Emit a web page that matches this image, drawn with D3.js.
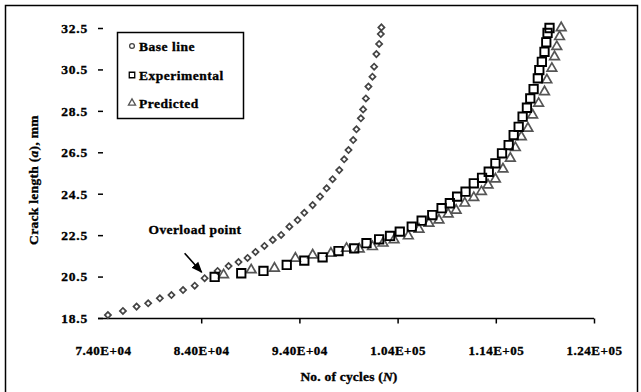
<!DOCTYPE html>
<html><head><meta charset="utf-8">
<script src="https://cdn.jsdelivr.net/npm/d3@7"></script>
<style>body{margin:0;background:#fff}svg{display:block}</style>
</head><body><svg id="c" width="641" height="392"></svg>
<script>
const xTicks = [74000, 84000, 94000, 104000, 114000, 124000];
const yTicks = [18.5, 20.5, 22.5, 24.5, 26.5, 28.5, 30.5, 32.5];
const seriesNames = ["Base line", "Experimental", "Predicted"];
const baseN = [74500,76030,77420,78600,79790,80970,82150,83340,84350,85670,86790,87800,88720,89530,90440,91290,92140,92980,93820,94500,95350,96100,96770,97380,98060,98560,99000,99480,99810,100260,100490,100770,101030,101440,101610,101840,102120,102290,102350];
const baseA = [18.64,18.84,19.05,19.21,19.45,19.61,19.85,20.06,20.42,20.77,21.01,21.2,21.4,21.69,21.98,22.27,22.51,22.91,23.23,23.58,23.95,24.36,24.76,25.2,25.64,26.16,26.61,27.09,27.61,28.14,28.57,29.1,29.67,30.15,30.63,31.24,31.73,32.21,32.53];
const expN = [85370,88080,90340,92710,94500,96360,97980,99580,100830,102120,103230,104220,105440,106450,107530,108480,109320,110060,110920,111760,112600,113280,113960,114630,115310,115820,116330,116730,117170,117510,117850,118280,118430,118690,118960,119140,119270,119470];
const expA = [20.48,20.66,20.77,21.06,21.27,21.43,21.73,21.86,22.11,22.3,22.46,22.67,22.91,23.2,23.47,23.8,24.04,24.36,24.6,25.0,25.27,25.56,25.97,26.45,26.85,27.33,27.73,28.22,28.65,29.1,29.55,30.07,30.47,30.87,31.35,31.81,32.26,32.5];
const predN = [86280,89090,91460,93590,95350,97210,98800,100090,101440,102520,103640,105090,106180,107190,108210,109150,109960,110840,111760,112540,113210,113960,114730,115480,115990,116600,117270,117750,118360,118960,119200,119710,119980,120210,120490,120660];
const predA = [20.58,20.82,20.9,21.38,21.54,21.62,21.86,21.83,21.94,22.11,22.27,22.46,22.78,23.07,23.23,23.52,23.7,24.04,24.31,24.6,24.92,25.21,25.69,26.21,26.72,27.25,27.66,28.3,28.86,29.42,29.99,30.55,31.11,31.6,32.08,32.51];
const overloadN = 84350, overloadA = 20.42;

const svg = d3.select("#c");
const x = d3.scaleLinear().domain([74000,124000]).range([103,594]);
const y = d3.scaleLinear().domain([18.5,32.5]).range([318,28]);
const FONT = "'Liberation Serif','Times New Roman',serif";
function boldText(sel, size, ls){
  sel.attr("font-family",FONT).attr("font-weight","bold").attr("font-size",size)
    .attr("letter-spacing",ls).attr("fill","#000").attr("stroke","#000").attr("stroke-width",0.35);
}

// outer frame
svg.append("rect").attr("x",5.5).attr("y",5.5).attr("width",632).attr("height",400)
  .attr("fill","none").attr("stroke","#000").attr("stroke-width",1.5);

function fmtE(v){
  const e = Math.floor(Math.log10(v));
  const m = (v/Math.pow(10,e)).toFixed(2);
  return m + "E+" + String(e).padStart(2,"0");
}

// x axis
const xAxis = d3.axisBottom(x).tickValues(xTicks).tickSize(5).tickFormat(fmtE);
const gx = svg.append("g").attr("transform","translate(0,318.5)").call(xAxis);
gx.select(".domain").attr("d","M98,0H594").attr("stroke","#000").attr("stroke-width",1.3);
gx.selectAll(".tick line").attr("stroke","#000").attr("stroke-width",1.5)
  .attr("display",(d,i)=> i===0 ? "none" : null);
gx.selectAll(".tick text").attr("dy",0).attr("y",36).call(boldText, 13, 0.5);

// y axis (ticks only)
const yAxis = d3.axisLeft(y).tickValues(yTicks).tickSize(5).tickFormat(d3.format(".1f"));
const gy = svg.append("g").attr("transform","translate(103,0)").call(yAxis);
gy.select(".domain").remove();
gy.selectAll(".tick line").attr("stroke","#000").attr("stroke-width",1.5);
gy.selectAll(".tick text").attr("x",-15).call(boldText, 13.5, 0.8);

// axis titles
const xt = svg.append("text").attr("x",349).attr("y",381).attr("text-anchor","middle").call(boldText, 13.5, 0.2);
xt.append("tspan").text("No. of cycles (");
xt.append("tspan").attr("font-style","italic").text("N");
xt.append("tspan").text(")");
const yt = svg.append("text").attr("transform","translate(38,180) rotate(-90)").attr("text-anchor","middle").call(boldText, 13.5, 0.3);
yt.append("tspan").text("Crack length (");
yt.append("tspan").attr("font-style","italic").text("a");
yt.append("tspan").text("), mm");

// markers
const diamond = d3.symbol().type(d3.symbolSquare).size(19);
const square = d3.symbol().type(d3.symbolSquare).size(70);
const tri = d3.symbol().type(d3.symbolTriangle).size(40);

const base = baseN.map((n,i)=>({n,a:baseA[i]}));
const expd = expN.map((n,i)=>({n,a:expA[i]}));
const pred = predN.map((n,i)=>({n,a:predA[i]}));

svg.append("g").selectAll("path").data(base).join("path")
  .attr("d",diamond).attr("transform",d=>`translate(${x(d.n)},${y(d.a)}) rotate(45)`)
  .attr("fill","none").attr("stroke","#444").attr("stroke-width",1.7);
svg.append("g").selectAll("path").data(pred).join("path")
  .attr("d",tri).attr("transform",d=>`translate(${x(d.n)},${y(d.a)})`)
  .attr("fill","none").attr("stroke","#555").attr("stroke-width",1.7);
svg.append("g").selectAll("path").data(expd).join("path")
  .attr("d",square).attr("transform",d=>`translate(${x(d.n)},${y(d.a)})`)
  .attr("fill","none").attr("stroke","#000").attr("stroke-width",1.9);

// overload annotation
svg.append("defs").append("marker").attr("id","ah").attr("viewBox","0 0 10 10")
  .attr("refX",9).attr("refY",5).attr("markerWidth",7).attr("markerHeight",7).attr("orient","auto")
  .append("path").attr("d","M0,1L10,5L0,9z").attr("fill","#000");
svg.append("line").attr("x1",x(overloadN)-20).attr("y1",y(overloadA)-25)
  .attr("x2",x(overloadN)-3).attr("y2",y(overloadA)-6)
  .attr("stroke","#000").attr("stroke-width",1.6).attr("marker-end","url(#ah)");
svg.append("text").attr("x",195).attr("y",234).attr("text-anchor","middle").call(boldText, 13.5, 0.4).text("Overload point");

// legend
const lg = svg.append("g");
lg.append("rect").attr("x",117.5).attr("y",32.5).attr("width",126).attr("height",86)
  .attr("fill","#fff").attr("stroke","#000").attr("stroke-width",1.5);
const syms = [d3.symbol().type(d3.symbolCircle).size(18), d3.symbol().type(d3.symbolSquare).size(30), d3.symbol().type(d3.symbolTriangle).size(22)];
const cols = ["#444","#000","#555"];
const rowsY = [46, 75, 103];
seriesNames.forEach((s,i)=>{
  lg.append("path").attr("d",syms[i]).attr("transform",`translate(132,${rowsY[i]})`)
    .attr("fill","none").attr("stroke",cols[i]).attr("stroke-width",1.3);
  lg.append("text").attr("x",139).attr("y",rowsY[i]+4.5).call(boldText, 13.5, 0.5).text(s);
});
</script></body></html>
